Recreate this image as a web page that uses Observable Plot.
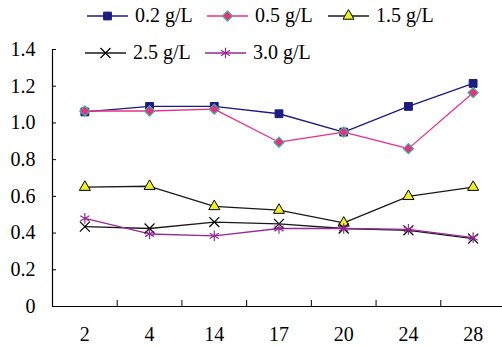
<!DOCTYPE html>
<html><head><meta charset="utf-8">
<script src="https://cdn.jsdelivr.net/npm/d3@7"></script>
<script src="https://cdn.jsdelivr.net/npm/@observablehq/plot@0.6"></script>
<style>
body{margin:0;background:#fff;}
#wrap{position:relative;width:502px;height:347px;overflow:hidden;font-family:"Liberation Serif","Tinos","Times New Roman",serif;}
#chart{position:absolute;left:0;top:0;}
#chart svg text{font-family:"Liberation Serif","Tinos","Times New Roman",serif;}
.leg{position:absolute;display:flex;align-items:center;font-size:20px;color:#000;white-space:nowrap;}
.leg svg{margin-right:7px;overflow:visible;}
</style>
</head><body>
<div id="wrap"><div id="chart"></div></div>
<script>
const days = ["2","4","14","17","20","24","28"];
const s02 = [1.06,1.09,1.09,1.05,0.95,1.09,1.215];
const s05 = [1.065,1.065,1.075,0.895,0.95,0.86,1.165];
const s15 = [0.65,0.655,0.545,0.525,0.455,0.6,0.65];
const s25 = [0.435,0.425,0.46,0.45,0.425,0.415,0.37];
const s30 = [0.48,0.395,0.385,0.425,0.425,0.42,0.375];
const seriesNames = ["0.2 g/L","0.5 g/L","1.5 g/L","2.5 g/L","3.0 g/L"];
const yTicks = [0,0.2,0.4,0.6,0.8,1.0,1.2,1.4];

const styles = [
  {line:"#1b1b80", symbol:"square", fill:"#1b1b80", stroke:"#1b1b80", r:4.4, sw:1},
  {line:"#ec2f86", symbol:"diamond2", fill:"#e8307f", stroke:"#3fb3a0", r:4.6, sw:1.2},
  {line:"#1a1a1a", symbol:"triangle", fill:"#f2ef1f", stroke:"#000", r:4.1, sw:1},
  {line:"#1a1a1a", symbol:"times", fill:"none", stroke:"#000", r:4.6, sw:1.2},
  {line:"#952a96", symbol:"asterisk", fill:"none", stroke:"#952a96", r:5, sw:1.2}
];
const allSeries = [s02,s05,s15,s25,s30];
const data = allSeries.map((s,k)=>s.map((v,i)=>({i:i+0.5,v,k})));

const marks = [];
marks.push(Plot.ruleY([0],{x1:0,x2:7,stroke:"#000",strokeWidth:1.2}));
marks.push(Plot.ruleX([0],{y1:0,y2:1.4,stroke:"#000",strokeWidth:1.2}));
marks.push(Plot.axisY({ticks:yTicks,tickSize:0,tickPadding:17,label:null,tickFormat:d=>d===0?"0":d.toFixed(1),fontSize:20,color:"#000"}));
marks.push(Plot.axisY({ticks:yTicks,tickSize:-4,label:null,tickFormat:()=>"",stroke:"#000"}));
marks.push(Plot.axisX({ticks:[1,2,3,4,5,6],tickSize:-6,label:null,tickFormat:()=>"",stroke:"#000"}));
marks.push(Plot.axisX({ticks:days.map((d,i)=>i+0.5),tickSize:0,tickPadding:20,label:null,tickFormat:d=>days[Math.floor(d)],fontSize:20,color:"#000"}));
data.forEach((d,k)=>{
  marks.push(Plot.line(d,{x:"i",y:"v",stroke:styles[k].line,strokeWidth:1.3}));
});
data.forEach((d,k)=>{
  const st=styles[k];
  marks.push(Plot.dot(d,{x:"i",y:"v",symbol:()=>st.symbol,r:st.r,fill:st.fill,stroke:st.stroke,strokeWidth:st.sw}));
});

const chart = Plot.plot({
  width:502,height:347,
  marginTop:49,marginBottom:41,marginLeft:52,marginRight:0,
  x:{type:"linear",domain:[0,7],range:[52,505]},
  y:{domain:[0,1.4]},
  style:{background:"transparent"},
  marks
});
document.getElementById("chart").appendChild(chart);

const legPos = [[87,4],[207,4],[328,4],[85,41],[205,41]];
const wrap = document.getElementById("wrap");
const symMap={square:d3.symbolSquare,diamond2:d3.symbolDiamond2,triangle:d3.symbolTriangle,times:d3.symbolTimes,asterisk:d3.symbolAsterisk};
seriesNames.forEach((name,k)=>{
  const st=styles[k];
  const div=document.createElement("div");
  div.className="leg";
  div.style.left=legPos[k][0]+"px";
  div.style.top=legPos[k][1]+"px";
  const svg=d3.create("svg").attr("width",41).attr("height",22);
  svg.append("line").attr("x1",0).attr("x2",41).attr("y1",11).attr("y2",11).attr("stroke",st.line).attr("stroke-width",1.3);
  svg.append("path").attr("transform","translate(20.5,11)")
    .attr("d",d3.symbol(symMap[st.symbol],Math.PI*st.r*st.r)())
    .attr("fill",st.fill).attr("stroke",st.stroke).attr("stroke-width",st.sw);
  div.appendChild(svg.node());
  const sp=document.createElement("span");
  sp.textContent=name;
  div.appendChild(sp);
  wrap.appendChild(div);
});
</script>
</body></html>
